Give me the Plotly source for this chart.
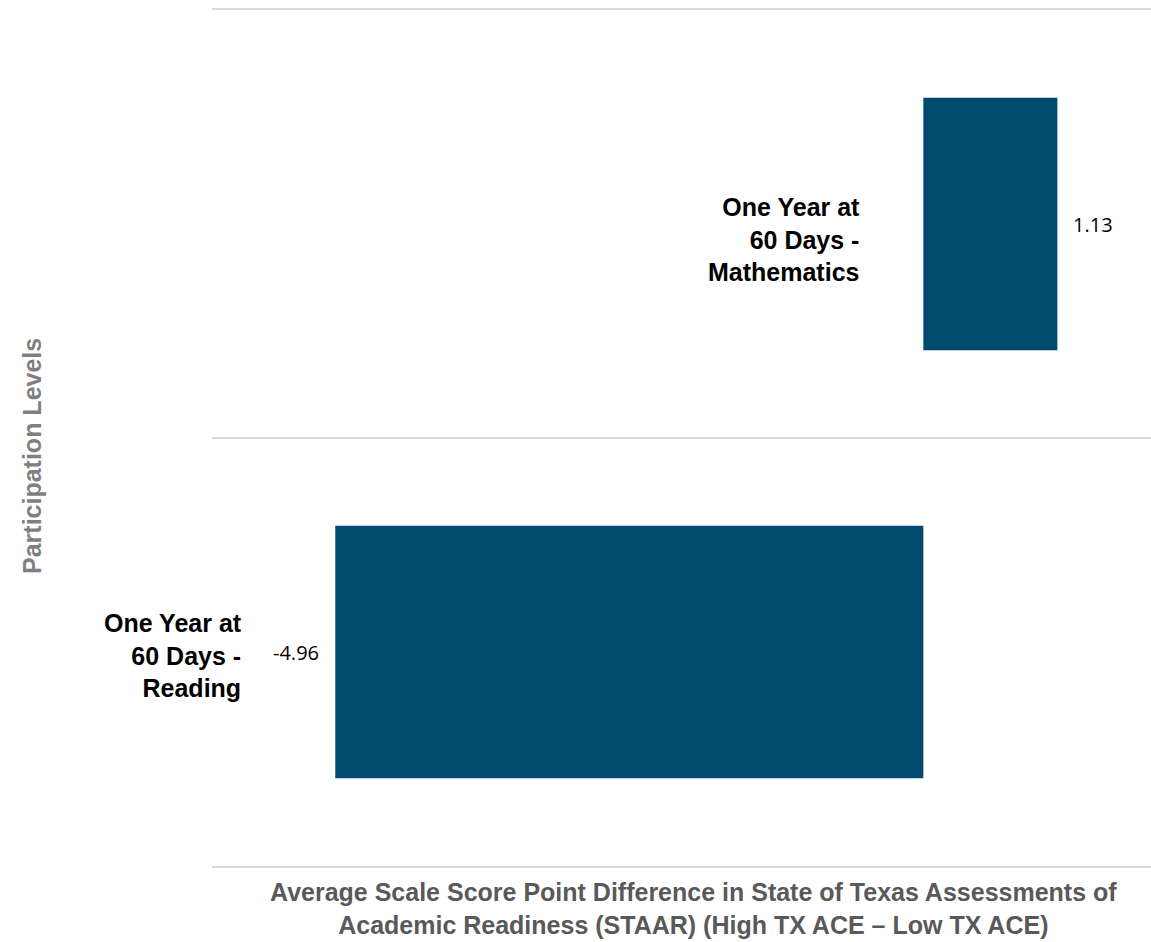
import plotly.graph_objects as go

# Datos
CATEGORIAS = [
    "One Year at<br>60 Days -<br>Reading",
    "One Year at<br>60 Days -<br>Mathematics",
]
DIFERENCIAS = [-4.96, 1.13]
ETIQUETAS = ["-4.96", "1.13"]

COLOR_BARRA = "#004a6e"
COLOR_REJILLA = "#d9d9d9"
FUENTE = "Liberation Sans, Arial, sans-serif"


def main():
    fig = go.Figure()

    fig.add_trace(
        go.Bar(
            x=DIFERENCIAS,
            y=CATEGORIAS,
            orientation="h",
            marker_color=COLOR_BARRA,
            marker_line_width=0,
            width=0.59,
            hoverinfo="x+y",
        )
    )

    anotaciones = []
    for cat, val, txt in zip(CATEGORIAS, DIFERENCIAS, ETIQUETAS):
        negativo = val < 0
        # Etiqueta del valor, fuera de la barra
        anotaciones.append(
            dict(
                x=val,
                y=cat,
                xref="x",
                yref="y",
                text=txt,
                showarrow=False,
                xanchor="right" if negativo else "left",
                xshift=-14 if negativo else 14,
                font=dict(family="Open Sans, " + FUENTE, size=20, color="#000000"),
            )
        )
        # Etiqueta de la categoría, junto a la base de la barra
        anotaciones.append(
            dict(
                x=min(val, 0),
                y=cat,
                xref="x",
                yref="y",
                text=f"<b>{cat}</b>",
                showarrow=False,
                align="right",
                xanchor="right",
                xshift=-91 if negativo else -61,
                yshift=-3 if negativo else -15,
                font=dict(family=FUENTE, size=25, color="#000000"),
            )
        )

    # Títulos de los ejes
    anotaciones.append(
        dict(
            x=0.5,
            y=0,
            xref="paper",
            yref="paper",
            xshift=12,
            yshift=-10,
            yanchor="top",
            showarrow=False,
            text="<b>Average Scale Score Point Difference in State of Texas Assessments of"
            "<br>Academic Readiness (STAAR) (High TX ACE – Low TX ACE)</b>",
            font=dict(family=FUENTE, size=25, color="#595959"),
        )
    )
    anotaciones.append(
        dict(
            x=0,
            y=0.5,
            xref="paper",
            yref="paper",
            xshift=-196,
            yshift=-18,
            textangle=-90,
            showarrow=False,
            text="<b>Participation Levels</b>",
            font=dict(family=FUENTE, size=25, color="#7f7f7f"),
        )
    )

    # Las líneas superior e inferior se dibujan como líneas del eje x.
    fig.update_xaxes(
        range=[-6.0, 1.92],
        showticklabels=False,
        showgrid=False,
        zeroline=False,
        showline=True,
        mirror=True,
        linecolor=COLOR_REJILLA,
        linewidth=2,
        ticks="",
        fixedrange=True,
    )

    fig.update_yaxes(
        type="category",
        range=[-0.5, 1.5],
        tickson="boundaries",
        showticklabels=False,
        showgrid=True,
        gridcolor=COLOR_REJILLA,
        gridwidth=2,
        zeroline=False,
        showline=False,
        ticks="",
        fixedrange=True,
    )

    fig.update_layout(
        width=1151,
        height=942,
        margin=dict(l=212, r=0, t=10, b=76),
        plot_bgcolor="#ffffff",
        paper_bgcolor="#ffffff",
        showlegend=False,
        font_family=FUENTE,
        annotations=anotaciones,
    )

    fig.write_html(
        "out.html",
        config={"displayModeBar": False},
        post_script="document.body.style.margin='0';document.body.style.overflow='hidden';",
    )


if __name__ == "__main__":
    main()
